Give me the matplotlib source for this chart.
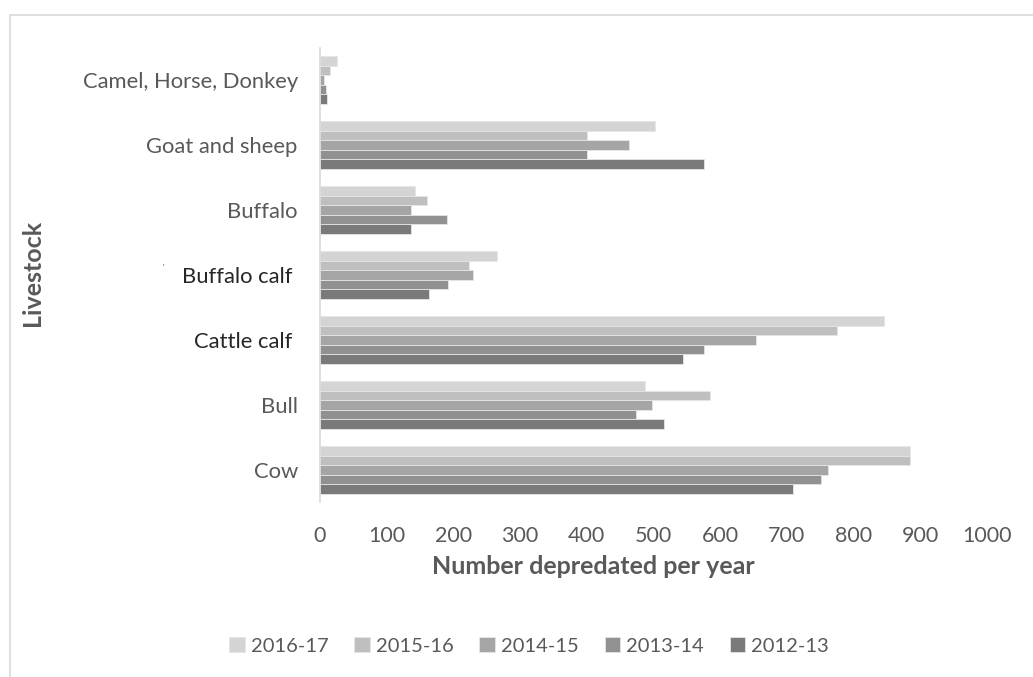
import matplotlib
matplotlib.use("Agg")
import numpy as np
from matplotlib import pyplot as plt
from matplotlib.lines import Line2D

plt.rcParams['font.family'] = ['Lato', 'DejaVu Sans']

# categories from bottom to top, as the y axis runs
livestock = ["Cow", "Bull", "Cattle calf ", "Buffalo calf ", "Buffalo",
             "Goat and sheep", "Camel, Horse, Donkey"]
years = ["2016-17", "2015-16", "2014-15", "2013-14", "2012-13"]

y2016_17 = [885, 487, 845, 265, 143, 502, 26]
y2015_16 = [885, 584, 775, 223, 161, 401, 15]
y2014_15 = [761, 498, 653, 229, 137, 463, 6]
y2013_14 = [751, 474, 575, 192, 191, 400, 9]
y2012_13 = [709, 515, 544, 164, 137, 575, 11]
series = [y2016_17, y2015_16, y2014_15, y2013_14, y2012_13]

colors = ["#d4d4d4", "#bfbfbf", "#a5a5a5", "#919191", "#7a7a7a"]
label_colors = ["#595959", "#595959", "#262626", "#262626", "#595959",
                "#595959", "#595959"]

fig = plt.figure(figsize=(10.33, 6.77), dpi=100)
ax = fig.add_axes([0.3098, 0.2578, 0.6457, 0.672])

y = np.arange(len(livestock))
h = 0.145
for k, (vals, name) in enumerate(zip(series, years)):
    ax.barh(y + (2 - k) * h, vals, height=h, color=colors[k],
            edgecolor="#e6e6e6", linewidth=0.6, label=name)

ax.set_xlim(0, 1000)
ax.set_ylim(-0.5, len(livestock) - 0.5)
ax.set_xticks(range(0, 1001, 100))
ax.set_yticks(y)
ax.set_yticklabels(livestock)
ax.tick_params(axis="x", length=0, labelsize=15.5, colors="#595959", pad=17)
ax.tick_params(axis="y", length=0, labelsize=15.8, colors="#595959", pad=16)
for lab, c in zip(ax.get_yticklabels(), label_colors):
    lab.set_color(c)

for s in ["top", "right", "bottom"]:
    ax.spines[s].set_visible(False)
ax.spines["left"].set_color("#d9d9d9")
ax.spines["left"].set_linewidth(1.2)

fig.text(593 / 1033, 1 - 566 / 677, "Number depredated per year",
         ha="center", va="center", fontsize=18, fontweight="bold",
         color="#595959")
fig.text(33 / 1033, 1 - 273 / 677, "Livestock", rotation=90,
         ha="center", va="center", fontsize=18, fontweight="bold",
         color="#595959")
fig.text(163 / 1033, 1 - 268 / 677, "'", fontsize=6, color="#404040",
         ha="center", va="center")

fig.legend(loc="center", bbox_to_anchor=(529 / 1033, 1 - 646 / 677),
           ncol=5, frameon=False, fontsize=14.5, handlelength=0.75,
           handleheight=0.75, handletextpad=0.3, columnspacing=1.3,
           labelcolor="#595959")

# outer chart border, cut off at the right and bottom
fig.add_artist(Line2D([10 / 1033, 10 / 1033, 1.0],
                      [0.0, 1 - 15 / 677, 1 - 15 / 677],
                      transform=fig.transFigure, color="#d9d9d9", lw=1.2))

fig.savefig("out.png", dpi=100)
